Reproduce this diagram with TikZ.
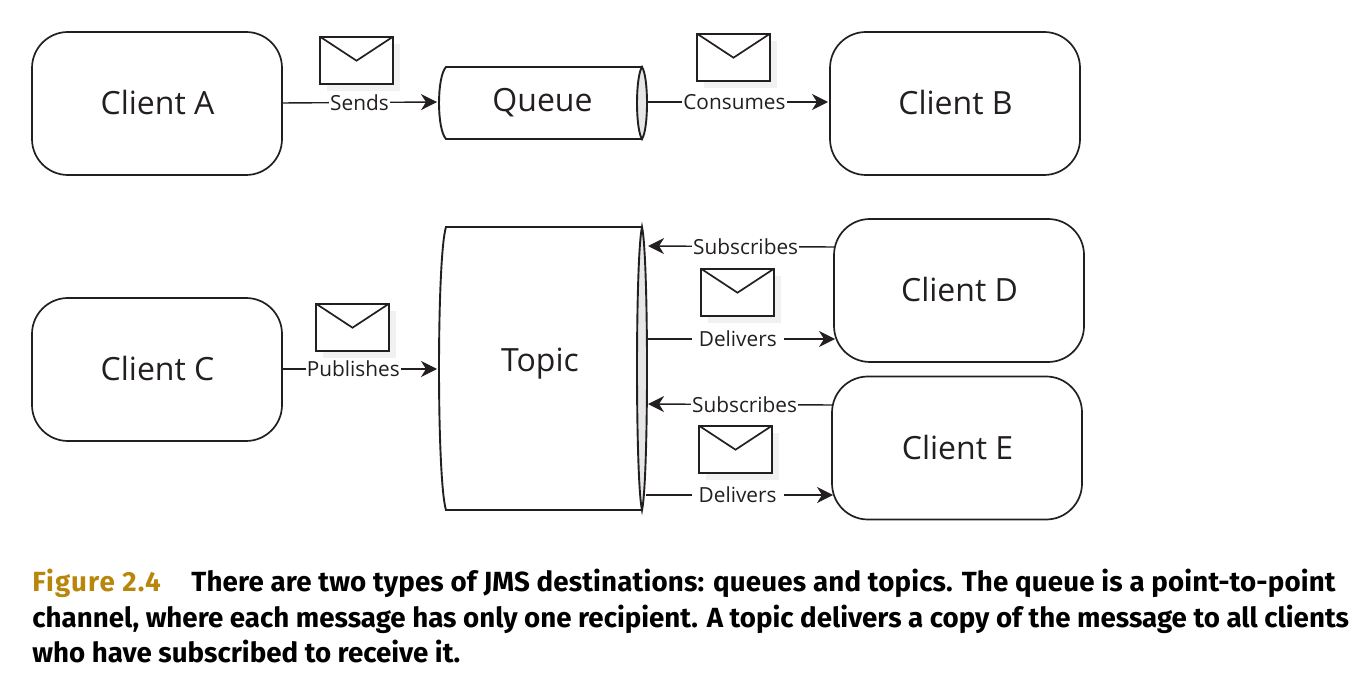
\documentclass[tikz,border=0pt]{standalone}
\usepackage{fontspec}
\setmainfont{Open Sans}
\newfontfamily\capfont{Fira Sans}
\usetikzlibrary{arrows.meta}
\definecolor{ink}{HTML}{231F20}
\definecolor{capgold}{HTML}{B8860B}
\definecolor{tubeend}{HTML}{E6E6E6}
\definecolor{envshadow}{HTML}{F1F1F1}
\tikzset{
  client/.style={draw=ink,line width=0.85pt,rounded corners=18pt,minimum width=125pt,minimum height=71.5pt,inner sep=0pt,text depth=1pt,text=ink,font=\fontsize{16}{18}\selectfont,execute at begin node={\hspace*{0.5pt}}},
  tubelabel/.style={text=ink,inner sep=0pt,font=\fontsize{16}{18}\selectfont},
  link/.style={draw=ink,line width=0.7pt,-{Stealth[length=8pt,width=8pt,inset=2.5pt]}},
  lbl/.style={fill=white,inner sep=0.6pt,text=ink,font=\fontsize{10.4}{12}\selectfont},
  caption/.style={anchor=base west,inner sep=0pt,font=\capfont\bfseries\fontsize{13.85}{16}\selectfont},
}
\newcommand{\tube}[5]{% x1,y1,x2,y2,curve reach
  \draw[ink,line width=0.95pt,fill=white] (#1+6,#2) -- (#3-6,#2) -- (#3-6,#4) -- (#1+6,#4) .. controls (#1-3.33,#4-#5) and (#1-3.33,#2+#5) .. (#1+6,#2) -- cycle;
  \draw[ink,line width=0.95pt,fill=tubeend] (#3-6,#2) .. controls (#3+0.67,#2+#5) and (#3+0.67,#4-#5) .. (#3-6,#4) .. controls (#3-12.67,#4-#5) and (#3-12.67,#2+#5) .. (#3-6,#2) -- cycle;
}
\newcommand{\envelope}[3]{% name,x,y
  \fill[envshadow] (#2+7,#3+7) rectangle (#2+80,#3+54);
  \draw[ink,line width=0.85pt,fill=white,line join=miter] (#2,#3) rectangle (#2+73,#3+47);
  \draw[ink,line width=0.85pt] (#2,#3) -- (#2+36.5,#3+24) -- (#2+73,#3);
}
\begin{document}
\begin{tikzpicture}[x=0.5pt,y=-0.5pt]
\useasboundingbox (0,0) rectangle (1368,688);
% tubes
\tube{440}{67}{648}{139}{10}
\tube{440}{227}{648}{510}{30}
\node[tubelabel] (queue) at (542.5,103) {Queue};
\node[tubelabel] (topic) at (540,364) {Topic};
% clients
\node[client] (clienta) at (157,103.5) {Client A};
\node[client] (clientb) at (955,103.5) {Client B};
\node[client] (clientc) at (157,369.5) {Client C};
\node[client] (clientd) at (959,290.5) {Client D};
\node[client] (cliente) at (957,448) {Client E};
% envelopes
\envelope{e1}{320}{36.7}
\envelope{e2}{697}{33.7}
\envelope{e3}{316}{303.7}
\envelope{e4}{701}{268.7}
\envelope{e5}{699}{425.7}
% connector ends
\coordinate (qin) at (437,102);
\coordinate (qout) at (648,102);
\coordinate (cbin) at (828,102);
\coordinate (tin) at (437,369);
\coordinate (ts1) at (648,246);
\coordinate (cd1) at (834,247);
\coordinate (td) at (648,339);
\coordinate (cd2) at (835,339);
\coordinate (ts2) at (648,404);
\coordinate (ce1) at (832,405);
\coordinate (te) at (646,495);
\coordinate (ce2) at (833,495);
\coordinate (ca) at (282,103);
\coordinate (cc) at (282,369);
% connectors
\draw[link] (ca) -- node[lbl,pos=.5] (l1) {Sends} (qin);
\draw[link] (qout) -- node[lbl,pos=.48] (l2) {Consumes} (cbin);
\draw[link] (cc) -- node[lbl,pos=.46] (l3) {Publishes} (tin);
\draw[link] (cd1) -- node[lbl,pos=.475] (l4) {Subscribes} (ts1);
\draw[link] (td) -- node[lbl,pos=.48,inner xsep=3.5pt] (l5) {Delivers} (cd2);
\draw[link] (ce1) -- node[lbl,pos=.475] (l6) {Subscribes} (ts2);
\draw[link] (te) -- node[lbl,pos=.49,inner xsep=3.5pt] (l7) {Delivers} (ce2);
% caption
\node[caption,text=capgold] (c0) at (32,591) {\addfontfeature{LetterSpace=4}Figure 2.4};
\node[caption,text=black] (c1) at (191,591) {\addfontfeature{LetterSpace=0.6}There are two types of JMS destinations: queues and topics. The queue is a point-to-point};
\node[caption,text=black] (c2) at (32,627) {channel, where each message has only one recipient. A topic delivers a copy of the message to all clients};
\node[caption,text=black] (c3) at (32,662) {who have subscribed to receive it.};
\end{tikzpicture}
\end{document}
